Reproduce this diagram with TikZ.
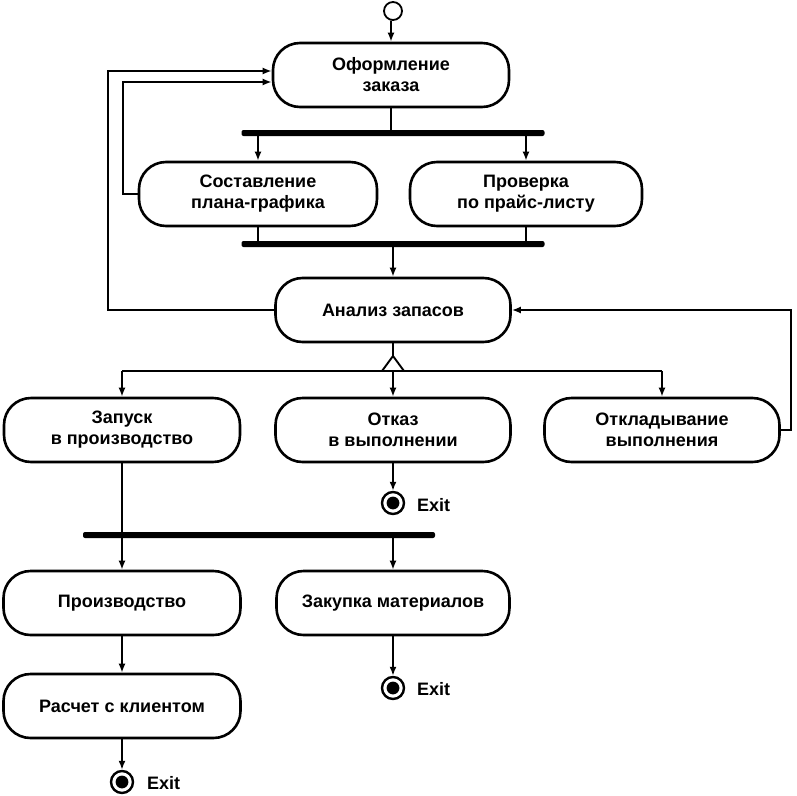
\documentclass[tikz,border=0pt]{standalone}
\usepackage{fontspec}
\setmainfont{Liberation Sans}
\usetikzlibrary{arrows.meta,calc}
\tikzset{
  act/.style={draw, line width=2.6pt, rounded corners=27pt, minimum width=236pt, minimum height=64pt,
    align=center, inner sep=0pt, font=\fontsize{18}{21}\selectfont\bfseries},
  syncbar/.style={fill=black, draw=none, minimum height=6pt, inner sep=0pt, rounded corners=2pt},
  flow/.style={line width=1.9pt, -{Latex[length=9pt,width=7pt]}},
  plain/.style={line width=1.9pt},
  initst/.style={draw, circle, line width=1.8pt, minimum size=18pt, inner sep=0pt},
  finalst/.style={draw, circle, line width=2.4pt, minimum size=22pt, inner sep=0pt,
    path picture={\fill (path picture bounding box.center) circle (6.4pt);}},
  exitlbl/.style={anchor=west, font=\fontsize{18}{21}\selectfont\bfseries, inner sep=0pt}
}
\begin{document}
\begin{tikzpicture}[x=1pt,y=-1pt]
\useasboundingbox (0,0) rectangle (797,795);
% nodes
\node[initst] (start) at (393,11) {};
\node[act] (o1) at (391,75) {Оформление\\заказа};
\node[syncbar, minimum width=303pt] (fork1) at (393,133) {};
\node[act, minimum width=238pt] (s1) at (258,194) {Составление\\плана-графика};
\node[act, minimum width=232pt] (s2) at (526,194) {Проверка\\по прайс-листу};
\node[syncbar, minimum width=303pt] (join1) at (393,244) {};
\node[act, minimum width=235pt] (an) at (393,310) {Анализ запасов};
\coordinate (dec) at (393,371);
\node[act] (zap) at (122,430) {Запуск\\в производство};
\node[act, minimum width=235pt] (otk) at (393,430) {Отказ\\в выполнении};
\node[act, minimum width=235pt] (otl) at (662,430) {Откладывание\\выполнения};
\node[finalst] (ex1) at (393,503) {};
\node[exitlbl] (ex1l) at (417,505) {Exit};
\node[syncbar, minimum width=352pt] (fork3) at (259,535) {};
\node[act, minimum width=237pt] (pr) at (122,603) {Производство};
\node[act, minimum width=233pt] (zk) at (393,603) {Закупка материалов};
\node[finalst] (ex2) at (393,688) {};
\node[exitlbl] (ex2l) at (417,689) {Exit};
\node[act, minimum width=237pt] (rs) at (122,706) {Расчет с клиентом};
\node[finalst] (ex3) at (122,782) {};
\node[exitlbl] (ex3l) at (147,783) {Exit};
% connectors
\draw[flow] (start) -- (o1.north |- start.south) -- (o1.north);
\draw[plain] (o1.south) -- (o1.south |- fork1.north);
\draw[flow] (fork1.south -| s1.north) -- (s1.north);
\draw[flow] (fork1.south -| s2.north) -- (s2.north);
\draw[plain] (s1.south) -- (join1.north -| s1.south);
\draw[plain] (s2.south) -- (join1.north -| s2.south);
\draw[flow] (join1.south) -- (an.north);
% loops back to Оформление
\draw[flow] (an.west) -| (108,71) -- (o1.west |- {(0,71)});
\draw[flow] (s1.west) -| (123,82) -- (o1.west |- {(0,82)});
% decision
\draw[plain] (an.south) -- ($(dec)+(0,-15)$);
\draw[plain, line join=miter] ($(dec)+(-11,0)$) -- ($(dec)+(0,-15)$) -- ($(dec)+(11,0)$);
\draw[plain] (dec -| zap.north) -- (dec -| otl.north);
\draw[flow] (dec -| zap.north) -- (zap.north);
\draw[flow] (dec) -- (otk.north);
\draw[flow] (dec -| otl.north) -- (otl.north);
% postpone loop
\draw[flow] (otl.east) -- ++(10,0) |- (an.east);
% refusal exit
\draw[flow] (otk.south) -- (ex1.north);
% production branch
\draw[plain] (zap.south) -- (zap.south |- fork3.north);
\draw[flow] (fork3.south -| pr.north) -- (pr.north);
\draw[flow] (fork3.south -| zk.north) -- (zk.north);
\draw[flow] (pr.south) -- (rs.north);
\draw[flow] (zk.south) -- (ex2.north);
\draw[flow] (rs.south) -- (ex3.north);
\end{tikzpicture}
\end{document}
